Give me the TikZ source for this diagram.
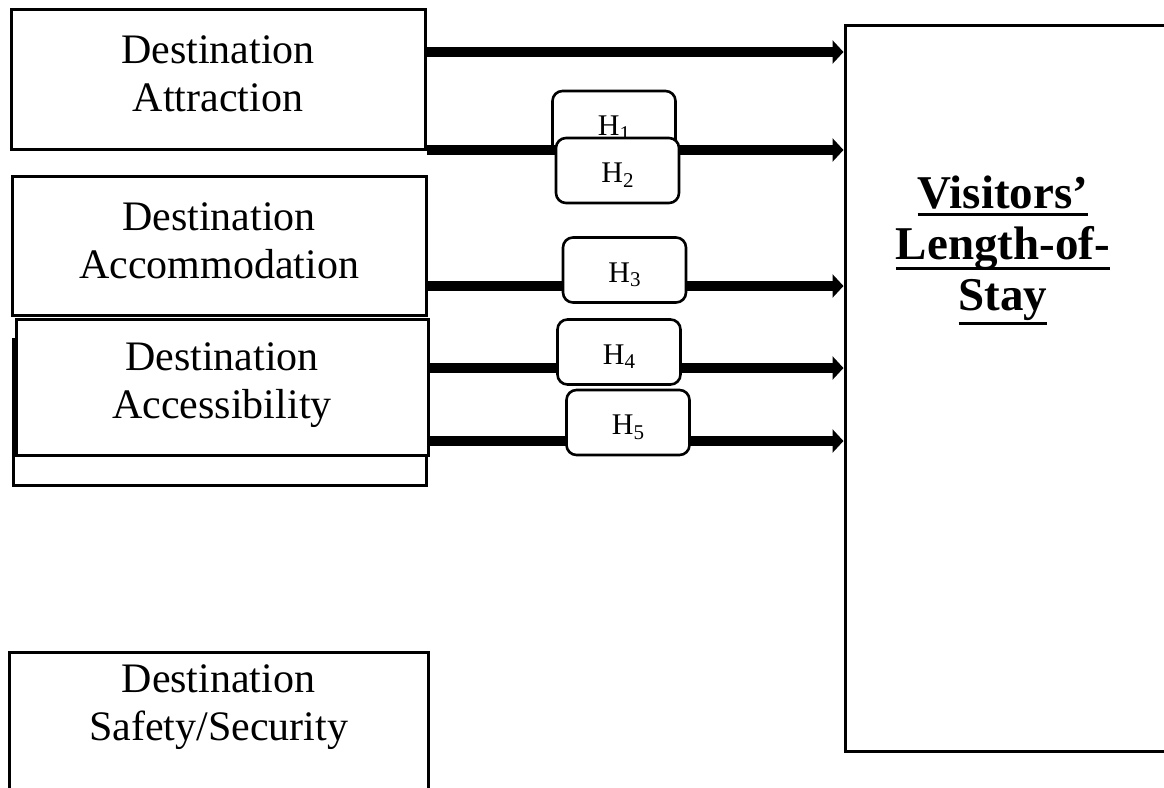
\documentclass[tikz,border=0pt]{standalone}
\usepackage{fontspec}
\setmainfont{Liberation Serif}
\usetikzlibrary{arrows.meta}
\newcommand\ulx[2]{\setbox0\hbox{#1}\rlap{\rule[-#2]{\wd0}{3.5pt}}\box0}
\newcommand\hsub[1]{H\raisebox{-4.5pt}{\fontsize{21}{21}\selectfont #1}}
\begin{document}
\begin{tikzpicture}[x=1pt,y=-1pt,
  box/.style={draw=black,line width=3pt,fill=white,rectangle,inner sep=0pt},
  lbl/.style={anchor=base,align=center,inner sep=0pt,font=\fontsize{42}{47.5}\selectfont},
  hbox/.style={draw=black,line width=2.6pt,fill=white,rounded corners=10pt,inner sep=0pt,
    minimum width=123pt,minimum height=65pt,text height=26pt,text depth=2pt,
    font=\fontsize{30}{34}\selectfont},
  link/.style={line width=10pt,-{Triangle[length=11pt,width=23pt]}}]
\useasboundingbox (0,0) rectangle (1164,787);
\clip (0,0) rectangle (1164,787);
% boxes
\node[box,minimum width=413pt,minimum height=146pt] (B) at (219.5,412) {};
\node[box,minimum width=414pt,minimum height=140pt] (A) at (218,79) {};
\node[box,minimum width=414pt,minimum height=139pt] (C) at (219,245.5) {};
\node[box,minimum width=412pt,minimum height=136pt] (D) at (222,387) {};
\node[box,minimum width=419pt,minimum height=200pt] (S) at (218.5,752) {};
\node[box,minimum width=360pt,minimum height=726pt] (V) at (1025,388) {};
% texts (anchored at the baseline of the last line)
\node[lbl] (At) at (218,111) {Destination\\Attraction};
\node[lbl] (Ct) at (219,278) {Destination\\Accommodation};
\node[lbl] (Dt) at (222,418) {Destination\\Accessibility};
\node[lbl] (St) at (218.5,740) {Destination\\Safety/Security};
\node[anchor=base,align=center,inner sep=0pt,font=\fontsize{47}{51}\selectfont\bfseries] (Vt) at (1003,310)
  {\ulx{Visitors’}{8pt}\\\ulx{Length-of-}{11pt}\\\ulx{Stay}{15pt}};
% start coordinates
\coordinate (s1) at (425,52);
\coordinate (s2) at (427,150);
\coordinate (s3) at (426,286);
\coordinate (s4) at (428,368);
\coordinate (s5) at (428,441);
% arrows and hypothesis boxes
\draw[link] (s1) -- (s1 -| V.west);
\node[hbox] (H1) at (614,123.5) {\hsub{1}};
\draw[link] (s2) -- (s2 -| V.west);
\node[hbox] (H2) at (617.5,170.5) {\hsub{2}};
\draw[link] (s3) -- (s3 -| V.west);
\node[hbox] (H3) at (624.5,270) {\hsub{3}};
\draw[link] (s4) -- (s4 -| V.west);
\node[hbox] (H4) at (619,352) {\hsub{4}};
\draw[link] (s5) -- (s5 -| V.west);
\node[hbox] (H5) at (628,422.5) {\hsub{5}};
\end{tikzpicture}
\end{document}
